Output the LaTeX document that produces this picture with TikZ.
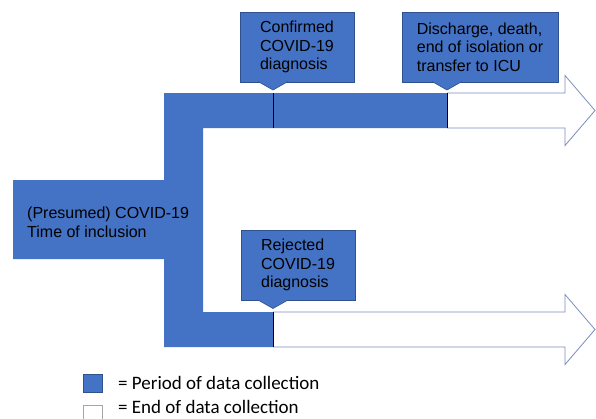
\documentclass[tikz,border=0pt]{standalone}
\usepackage{fontspec}
\setmainfont{Liberation Sans}
\newfontfamily\legendfont{Carlito}
\definecolor{covblue}{HTML}{4472C4}
\definecolor{covedge}{HTML}{2F528F}
\definecolor{arrowedge}{HTML}{7A8DBF}
\begin{document}
\begin{tikzpicture}[x=1pt,y=-1pt]
	\tikzstyle{period} = [fill=covblue]
	\tikzstyle{hollow} = [draw=arrowedge, fill=white, line width=0.8pt, line join=miter]
	\tikzstyle{note} = [rectangle, fill=covblue, draw=covedge, line width=0.6pt, align=left, inner sep=0, minimum height=70pt, font=\fontsize{16}{18.5}\selectfont]
	\tikzstyle{pointer} = [fill=covblue, draw=covedge, line width=0.6pt]
	\tikzstyle{tick} = [draw, line width=1pt, black]
	\tikzstyle{swatch} = [draw=covedge, line width=0.6pt, minimum width=19pt, minimum height=18pt, inner sep=0]
	\tikzstyle{key} = [anchor=west, inner sep=0, font=\legendfont\fontsize{19}{22}\selectfont]
	
	\useasboundingbox (0,0) rectangle (596,418);
	
	% white arrows
	\foreach \s/\m in {447/110.5, 273/329.5}
	{
		\draw [hollow] (\s,\m-17.5) -- (565,\m-17.5) -- (565,\m-35) -- (595,\m) -- (565,\m+35) -- (565,\m+17.5) -- (\s,\m+17.5);
	}
	% blue period
	\fill [period] (164,93) -- (447,93) -- (447,128) -- (203,128) -- (203,312) -- (273,312) -- (273,347) -- (164,347) -- (164,259) -- (13,259) -- (13,180) -- (164,180) -- cycle;
	\node [anchor=north west, inner sep=0, align=left, font=\fontsize{16}{19}\selectfont] (inclusion) at (27,207) {(Presumed) COVID-19\\Time of inclusion};
	\foreach \x/\a/\b in {273/93/128, 447/93/128, 273/312/347}
	{
		\draw [tick] (\x,\a) -- (\x,\b);
	}
	
	% callouts
	\coordinate (tipconf) at (273,90);
	\coordinate (tipend) at (447,90);
	\coordinate (tiprej) at (273,308.5);
	\node [note, minimum width=114pt] (confirmed) at (297,47) {Confirmed\\COVID-19\\diagnosis};
	\node [note, minimum width=156pt] (discharge) at (480,47) {Discharge, death,\\end of isolation or\\transfer to ICU};
	\node [note, minimum width=114pt] (rejected) at (298,265) {Rejected\\COVID-19\\diagnosis};
	\foreach \t in {tipconf,tipend,tiprej}
	{
		\filldraw [pointer] ([shift={(-15,-8.5)}]\t) -- (\t) -- ([shift={(15,-8.5)}]\t);
	}
	
	% legend
	\node [swatch, fill=covblue] (keyblue) at (92.5,383) {};
	\node [swatch, fill=white, draw=gray!70] (keywhite) at (92.5,414) {};
	\node [key] (keyperiod) at (118,382.5) {= Period of data collection};
	\node [key] (keyend) at (118,407) {= End of data collection};
\end{tikzpicture}
\end{document}
